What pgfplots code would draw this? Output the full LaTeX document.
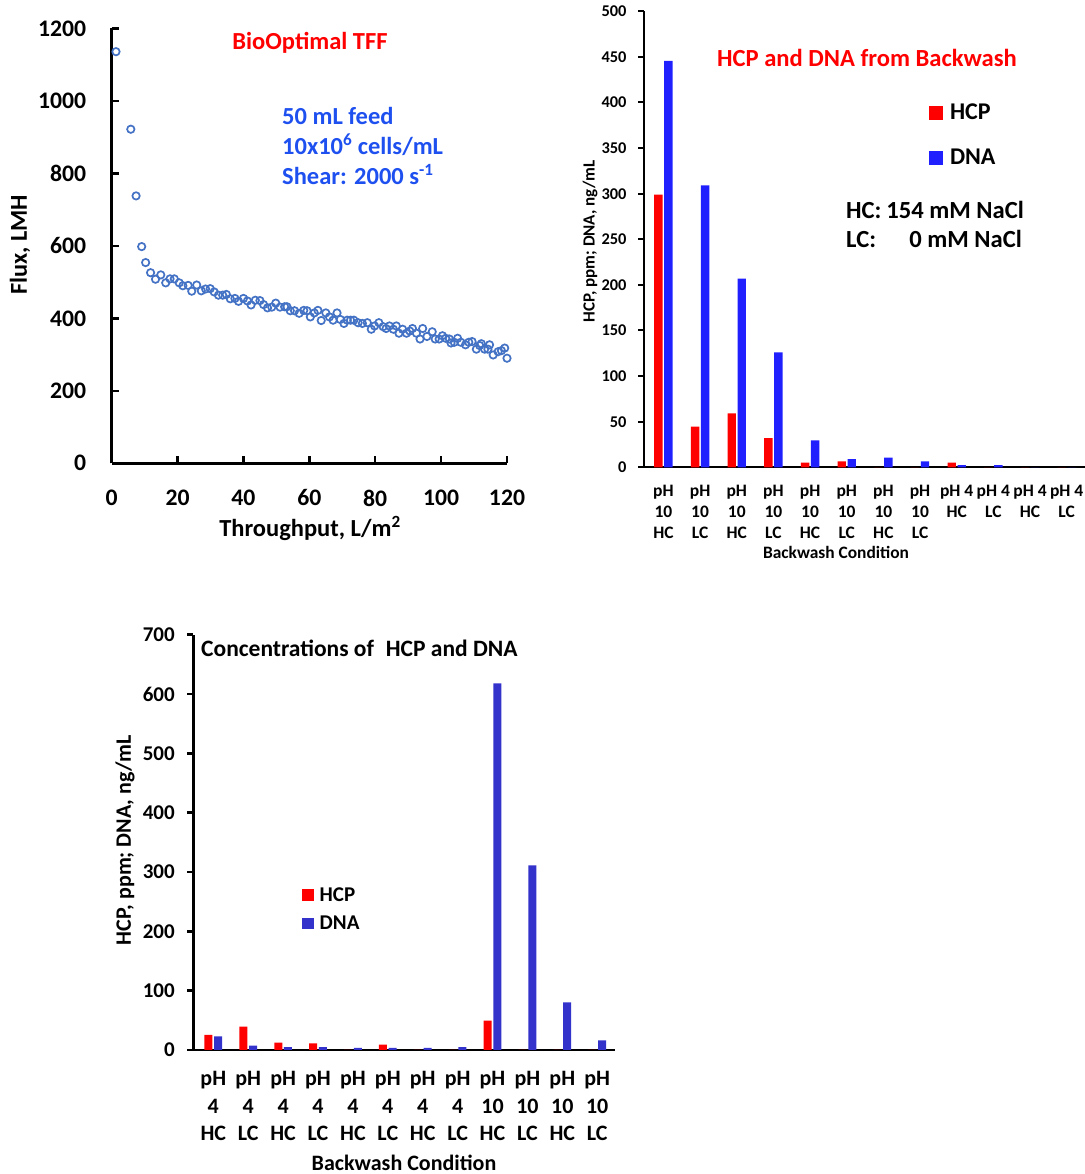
\documentclass[border=0pt]{standalone}
\usepackage{fontspec}
\setmainfont{Carlito}
\usepackage{pgfplots}
\pgfplotsset{compat=1.18}
\definecolor{mk}{RGB}{68,114,196}
\definecolor{txtblue}{RGB}{30,80,240}
\definecolor{redA}{RGB}{255,0,0}
\definecolor{blueA}{RGB}{32,32,255}
\definecolor{blueB}{RGB}{51,51,204}
\newcommand{\fs}[2]{\bfseries\fontsize{#1bp}{#2bp}\selectfont}
\begin{document}
\begin{tikzpicture}
\useasboundingbox (0,0) rectangle (1085bp,1174bp);

% ---------------- top-left: flux ----------------
\begin{axis}[
 at={(111.7bp,710.7bp)}, anchor=south west,
 scale only axis, width=395.3bp, height=434.8bp,
 xmin=0, xmax=120, ymin=0, ymax=1200,
 xtick={0,20,...,120}, ytick={0,200,...,1200},
 axis lines=left, axis line style={-, line width=2.5bp},
 tick align=inside, major tick length=7bp, tick style={line width=2.5bp, black},
 /pgf/number format/assume math mode=true,
 /pgf/number format/1000 sep={},
 ticklabel style={font=\fs{23.7}{28}},
 yticklabel style={xshift=-22bp},
 xticklabel style={yshift=-23bp},
 clip=false,
]
\addplot[only marks, mark=o, mark size=3.7bp, mark options={line width=1.7bp}, color=mk] coordinates {
(1.3,1136) (5.8,922) (7.4,738) (9.1,598) (10.3,554) (11.8,526) (13.3,508) (14.9,520)
(16.4,498) (17.7,509) (19.0,509) (20.5,498) (21.6,490) (23.2,491) (24.3,475) (25.8,492)
(27.2,476) (28.5,481) (29.9,482) (31.1,473) (32.4,464) (33.7,464) (34.8,466) (36.0,454)
(37.4,455) (38.5,447) (40.0,455) (41.2,448) (42.3,437) (43.6,450) (45.0,449) (46.1,438)
(47.3,429) (48.6,431) (49.8,442) (51.1,431) (52.5,432) (53.2,432) (54.2,421) (55.5,421)
(56.9,414) (58.3,422) (59.3,421) (60.3,404) (61.5,415) (62.6,422) (63.6,394) (65.0,415)
(66.1,404) (67.2,395) (68.4,415) (69.4,397) (70.5,386) (71.5,395) (72.5,395) (73.5,395)
(74.8,388) (76.1,386) (77.6,388) (78.8,370) (79.8,379) (81.1,388) (82.4,377) (83.3,372)
(84.3,379) (85.5,370) (86.4,379) (87.2,359) (88.3,370) (89.5,359) (90.5,365) (91.3,372)
(92.5,359) (93.6,343) (94.4,372) (95.7,350) (97.3,363) (98.2,343) (99.4,343) (100.4,352)
(101.4,345) (102.5,343) (103.0,332) (104.0,334) (105.0,345) (106.0,334) (107.4,327) (108.4,334)
(109.4,336) (110.7,315) (111.7,325) (112.2,330) (113.2,315) (114.2,315) (114.7,327) (115.8,299)
(117.3,308) (118.3,311) (119.3,318) (120.0,290)
};
\end{axis}

% ---------------- top-right: backwash ----------------
\begin{axis}[
 at={(644bp,706.7bp)}, anchor=south west,
 scale only axis, width=441bp, height=456bp,
 xmin=-0.53, xmax=11.5, ymin=0, ymax=500,
 ytick={0,50,...,500}, xtick={0,...,11},
 xticklabels={{pH\\10\\HC},{pH\\10\\LC},{pH\\10\\HC},{pH\\10\\LC},{pH\\10\\HC},{pH\\10\\LC},{pH\\10\\HC},{pH\\10\\LC},{pH 4\\HC},{pH 4\\LC},{pH 4\\HC},{pH 4\\LC}},
 axis lines=left, axis line style={-, line width=2bp},
 tick align=outside, major tick length=6bp,
 ytick style={line width=2bp, black}, xtick style={draw=none},
 /pgf/number format/assume math mode=true,
 yticklabel style={font=\fs{16.4}{20}, xshift=-8bp},
 xticklabel style={font=\fs{17.5}{21}, align=center, yshift=-8bp},
 legend style={at={(0.6463,0.7978)}, anchor=north west, draw=none, fill=none,
   inner sep=0pt, outer sep=0pt, row sep=28bp, column sep=7bp,
   font=\fs{24}{29}, nodes={inner sep=0pt}},
 legend cell align=left,
]
\addplot[ybar, bar width=8.4bp, bar shift=-5bp, fill=redA, draw=none,
  legend image code/.code={\fill[redA] (0bp,-8bp) rectangle (14bp,6bp);}] coordinates {
(0,299) (1,44.5) (2,59) (3,32) (4,5) (5,6.5) (6,0) (7,0) (8,5) (9,0) (10,0) (11,0)};
\addplot[ybar, bar width=8.4bp, bar shift=5bp, fill=blueA, draw=none,
  legend image code/.code={\fill[blueA] (0bp,-8bp) rectangle (14bp,6bp);}] coordinates {
(0,445.5) (1,309) (2,207) (3,126) (4,29.6) (5,9) (6,10.5) (7,6.5) (8,2.5) (9,2.5) (10,0) (11,0)};
\legend{HCP,DNA}
\end{axis}

% ---------------- bottom: concentrations ----------------
\begin{axis}[
 at={(193.3bp,124bp)}, anchor=south west,
 scale only axis, width=421.7bp, height=415.3bp,
 xmin=-0.573, xmax=11.51, ymin=0, ymax=700,
 ytick={0,100,...,700}, xtick={0,...,11},
 xticklabels={{pH\\4\\HC},{pH\\4\\LC},{pH\\4\\HC},{pH\\4\\LC},{pH\\4\\HC},{pH\\4\\LC},{pH\\4\\HC},{pH\\4\\LC},{pH\\10\\HC},{pH\\10\\LC},{pH\\10\\HC},{pH\\10\\LC}},
 axis lines=left, axis line style={-, line width=2.5bp},
 tick align=outside, major tick length=6bp,
 ytick style={line width=2.5bp, black}, xtick style={draw=none},
 /pgf/number format/assume math mode=true,
 yticklabel style={font=\fs{21}{25}, xshift=-9bp},
 xticklabel style={font=\fs{22}{27.5}, align=center, yshift=-12bp},
 legend style={at={(0.2585,0.3919)}, anchor=north west, draw=none, fill=none,
   inner sep=0pt, outer sep=0pt, row sep=13bp, column sep=6bp,
   font=\fs{21}{25}, nodes={inner sep=0pt}},
 legend cell align=left,
]
\addplot[ybar, bar width=8bp, bar shift=-4.85bp, fill=redA, draw=none,
  legend image code/.code={\fill[redA] (0bp,-6bp) rectangle (11.4bp,5.4bp);}] coordinates {
(0,25.3) (1,39.3) (2,12.4) (3,11.2) (4,0) (5,9) (6,0) (7,0) (8,49.4) (9,0) (10,0) (11,0)};
\addplot[ybar, bar width=8bp, bar shift=4.85bp, fill=blueB, draw=none,
  legend image code/.code={\fill[blueB] (0bp,-6bp) rectangle (11.4bp,5.4bp);}] coordinates {
(0,23) (1,7.3) (2,5) (3,5) (4,3.4) (5,3.4) (6,3.4) (7,5) (8,618) (9,311) (10,80.3) (11,16.3)};
\legend{HCP,DNA}
\end{axis}

% ---------------- texts ----------------
% top-left
\node[text=redA, font=\fs{24.5}{29}] at (310bp,1131bp) {BioOptimal TFF};
\node[text=txtblue, font=\fs{24.5}{29}, anchor=base west, inner sep=0pt] at (282bp,1049.2bp) {50 mL feed};
\node[text=txtblue, font=\fs{24.5}{29}, anchor=base west, inner sep=0pt] at (282bp,1019.2bp) {10x10\textsuperscript{6} cells/mL};
\node[text=txtblue, font=\fs{24.5}{29}, anchor=base west, inner sep=0pt] at (282bp,989.2bp) {Shear: 2000 s\textsuperscript{-1}};
\node[rotate=90, font=\fs{24.3}{29}] at (20bp,929bp) {Flux, LMH};
\node[font=\fs{24.5}{29}] at (310bp,646bp) {Throughput, L/m\textsuperscript{2}};
% top-right
\node[text=redA, font=\fs{24.6}{29}] at (867bp,1116bp) {HCP and DNA from Backwash};
\node[font=\fs{24.6}{29}, anchor=base west, inner sep=0pt] at (846bp,955.5bp) {HC:};
\node[font=\fs{24.6}{29}, anchor=base east, inner sep=0pt] at (1024bp,955.5bp) {154 mM NaCl};
\node[font=\fs{24.6}{29}, anchor=base west, inner sep=0pt] at (846bp,926.5bp) {LC:};
\node[font=\fs{24.6}{29}, anchor=base east, inner sep=0pt] at (1022bp,926.5bp) {0 mM NaCl};
\node[rotate=90, font=\fs{17}{21}] at (590bp,932.5bp) {HCP, ppm; DNA, ng/mL};
\node[font=\fs{17.4}{21}] at (836bp,622bp) {Backwash Condition};
% bottom
\node[font=\fs{23.5}{28}, anchor=west, inner sep=0pt] at (201bp,526bp) {Concentrations of\hspace{0.5em}HCP and DNA};
\node[rotate=90, font=\fs{22}{26}] at (125bp,334bp) {HCP, ppm; DNA, ng/mL};
\node[font=\fs{22}{26}] at (404bp,11bp) {Backwash Condition};
\end{tikzpicture}
\end{document}
